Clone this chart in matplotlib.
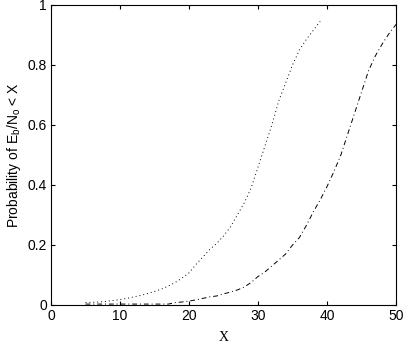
import matplotlib
matplotlib.use("Agg")
import matplotlib.pyplot as plt

plt.rcParams["mathtext.fontset"] = "custom"
plt.rcParams["mathtext.rm"] = "Liberation Sans"
plt.rcParams["mathtext.it"] = "Liberation Sans"
plt.rcParams["font.family"] = ["Liberation Sans", "DejaVu Sans"]

x1 = list(range(5, 40))
p1 = [0.008, 0.009, 0.010, 0.012, 0.015, 0.018, 0.022, 0.027, 0.032, 0.038,
      0.045, 0.053, 0.063, 0.075, 0.090, 0.107, 0.135, 0.160, 0.185, 0.205,
      0.230, 0.260, 0.300, 0.340, 0.390, 0.460, 0.530, 0.600, 0.680, 0.740,
      0.800, 0.850, 0.885, 0.915, 0.945]

x2 = list(range(5, 51))
p2 = [0.003, 0.003, 0.003, 0.003, 0.003, 0.003, 0.003, 0.003, 0.003, 0.003,
      0.003, 0.003, 0.003, 0.008, 0.010, 0.013, 0.017, 0.022, 0.027, 0.030,
      0.037, 0.043, 0.050, 0.060, 0.075, 0.095, 0.110, 0.130, 0.150, 0.170,
      0.200, 0.225, 0.265, 0.310, 0.350, 0.395, 0.445, 0.500, 0.570, 0.640,
      0.710, 0.780, 0.830, 0.870, 0.905, 0.935]

xticks = [0, 10, 20, 30, 40, 50]
yticks = [0, 0.2, 0.4, 0.6, 0.8, 1]
yticklabels = ["0", "0.2", "0.4", "0.6", "0.8", "1"]

fig = plt.figure(figsize=(4.05, 3.45), dpi=100)
ax = fig.add_axes([0.126, 0.116, 0.852, 0.870])
ax.plot(x1, p1, color="black", linestyle=(0, (1, 3)), linewidth=0.7)
ax.plot(x2, p2, color="black", linestyle=(0, (5, 3, 1, 3)), linewidth=0.7)
ax.set_xlim(0, 50)
ax.set_ylim(0, 1)
ax.set_xticks(xticks)
ax.set_xticklabels([str(t) for t in xticks])
ax.set_yticks(yticks)
ax.set_yticklabels(yticklabels)
ax.tick_params(direction="in", top=True, right=True, length=3, labelsize=10, pad=3)
for s in ax.spines.values():
    s.set_linewidth(0.8)
ax.set_xlabel("X", family="Liberation Serif", fontsize=10, labelpad=6)
ax.set_ylabel("Probability of E$_b$/N$_o$ < X", fontsize=10, labelpad=3)
fig.savefig("out.png", dpi=100)
